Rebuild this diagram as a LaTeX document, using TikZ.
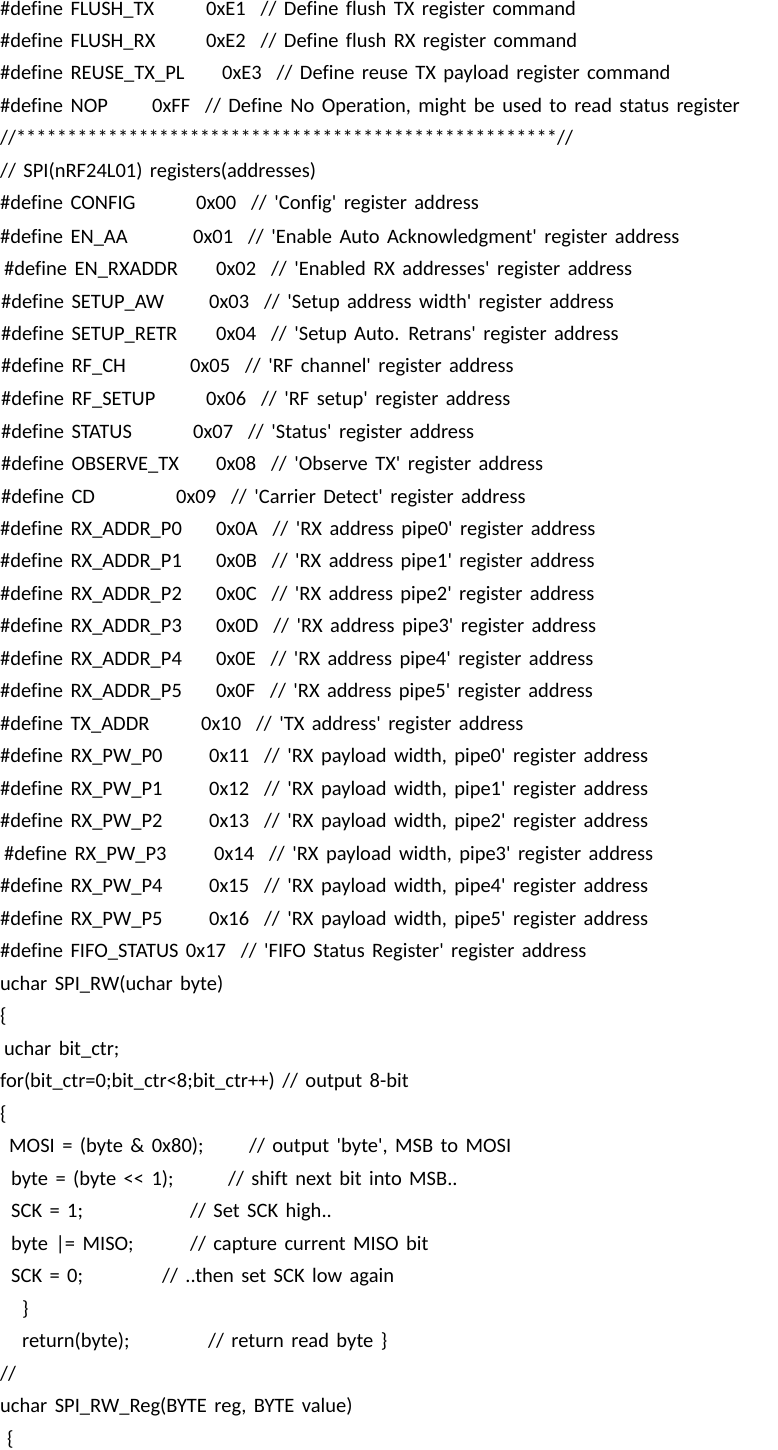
\documentclass[tikz,border=0pt]{standalone}
\usepackage{fontspec}
\newfontfamily\cf{Carlito}[Ligatures=NoCommon,WordSpace=1.6]
\newcommand{\Lx}[3]{\node[anchor=base west,inner sep=0pt] at (#2pt,-#1pt-6pt) {#3};}
\newcommand{\Dl}[5]{\node[anchor=base west,inner sep=0pt] (n#1) at (#2pt,-#1pt-6pt) {\#define #3};\node[anchor=base west,inner sep=0pt] (v#1) at (#4pt,-#1pt-6pt) {#5};}
\begin{document}
\begin{tikzpicture}[font=\cf\fontsize{20.5}{23}\selectfont]
\useasboundingbox (0,0) rectangle (777pt,-1450pt);
\def\q{\char39\relax}
\Dl{10}{0}{FLUSH\_TX}{206}{0xE1\ \ // Define flush TX register command}
\Dl{42}{0}{FLUSH\_RX}{206}{0xE2\ \ // Define flush RX register command}
\Dl{74}{0}{REUSE\_TX\_PL}{222}{0xE3\ \ // Define reuse TX payload register command}
\Dl{107}{0}{NOP}{152}{0xFF\ \ // Define No Operation, might be used to read status register}
\Lx{139}{0}{//*****************************************************//}
\Lx{172}{0}{// SPI(nRF24L01) registers(addresses)}
\Dl{204}{0}{CONFIG}{196}{0x00\ \ // \q Config\q\ register address}
\Dl{237}{0}{EN\_AA}{193}{0x01\ \ // \q Enable Auto Acknowledgment\q\ register address}
\Dl{269}{4}{EN\_RXADDR}{216}{0x02\ \ // \q Enabled RX addresses\q\ register address}
\Dl{302}{1}{SETUP\_AW}{209}{0x03\ \ // \q Setup address width\q\ register address}
\Dl{334}{1}{SETUP\_RETR}{216}{0x04\ \ // \q Setup Auto. Retrans\q\ register address}
\Dl{366}{1}{RF\_CH}{190}{0x05\ \ // \q RF channel\q\ register address}
\Dl{399}{1}{RF\_SETUP}{206}{0x06\ \ // \q RF setup\q\ register address}
\Dl{432}{1}{STATUS}{193}{0x07\ \ // \q Status\q\ register address}
\Dl{464}{1}{OBSERVE\_TX}{216}{0x08\ \ // \q Observe TX\q\ register address}
\Dl{497}{1}{CD}{176}{0x09\ \ // \q Carrier Detect\q\ register address}
\Dl{529}{0}{RX\_ADDR\_P0}{216}{0x0A\ \ // \q RX address pipe0\q\ register address}
\Dl{561}{0}{RX\_ADDR\_P1}{216}{0x0B\ \ // \q RX address pipe1\q\ register address}
\Dl{594}{0}{RX\_ADDR\_P2}{216}{0x0C\ \ // \q RX address pipe2\q\ register address}
\Dl{626}{0}{RX\_ADDR\_P3}{216}{0x0D\ \ // \q RX address pipe3\q\ register address}
\Dl{659}{0}{RX\_ADDR\_P4}{216}{0x0E\ \ // \q RX address pipe4\q\ register address}
\Dl{691}{0}{RX\_ADDR\_P5}{216}{0x0F\ \ // \q RX address pipe5\q\ register address}
\Dl{724}{0}{TX\_ADDR}{201}{0x10\ \ // \q TX address\q\ register address}
\Dl{756}{0}{RX\_PW\_P0}{209}{0x11\ \ // \q RX payload width, pipe0\q\ register address}
\Dl{789}{0}{RX\_PW\_P1}{209}{0x12\ \ // \q RX payload width, pipe1\q\ register address}
\Dl{821}{0}{RX\_PW\_P2}{209}{0x13\ \ // \q RX payload width, pipe2\q\ register address}
\Dl{854}{4}{RX\_PW\_P3}{214}{0x14\ \ // \q RX payload width, pipe3\q\ register address}
\Dl{886}{0}{RX\_PW\_P4}{209}{0x15\ \ // \q RX payload width, pipe4\q\ register address}
\Dl{919}{0}{RX\_PW\_P5}{209}{0x16\ \ // \q RX payload width, pipe5\q\ register address}
\Lx{951}{0}{\#define FIFO\_STATUS 0x17\ \ // \q FIFO Status Register\q\ register address}
\Lx{984}{0}{uchar SPI\_RW(uchar byte)}
\Lx{1016}{0}{\{}
\Lx{1049}{4}{uchar bit\_ctr;}
\Lx{1081}{0}{for(bit\_ctr=0;bit\_ctr<8;bit\_ctr++) // output 8-bit}
\Lx{1114}{0}{\{}
\Lx{1146}{9}{MOSI = (byte \& 0x80);}
\Lx{1146}{249}{// output \q byte\q , MSB to MOSI}
\Lx{1179}{11}{byte = (byte << 1);}
\Lx{1179}{228}{// shift next bit into MSB..}
\Lx{1211}{11}{SCK = 1;}
\Lx{1211}{190}{// Set SCK high..}
\Lx{1244}{11}{byte |= MISO;}
\Lx{1244}{190}{// capture current MISO bit}
\Lx{1276}{11}{SCK = 0;}
\Lx{1276}{162}{// ..then set SCK low again}
\Lx{1309}{22}{\}}
\Lx{1341}{22}{return(byte);}
\Lx{1341}{208}{// return read byte \}}
\Lx{1374}{0}{//}
\Lx{1406}{0}{uchar SPI\_RW\_Reg(BYTE reg, BYTE value)}
\Lx{1439}{7}{\{}
\end{tikzpicture}
\end{document}
